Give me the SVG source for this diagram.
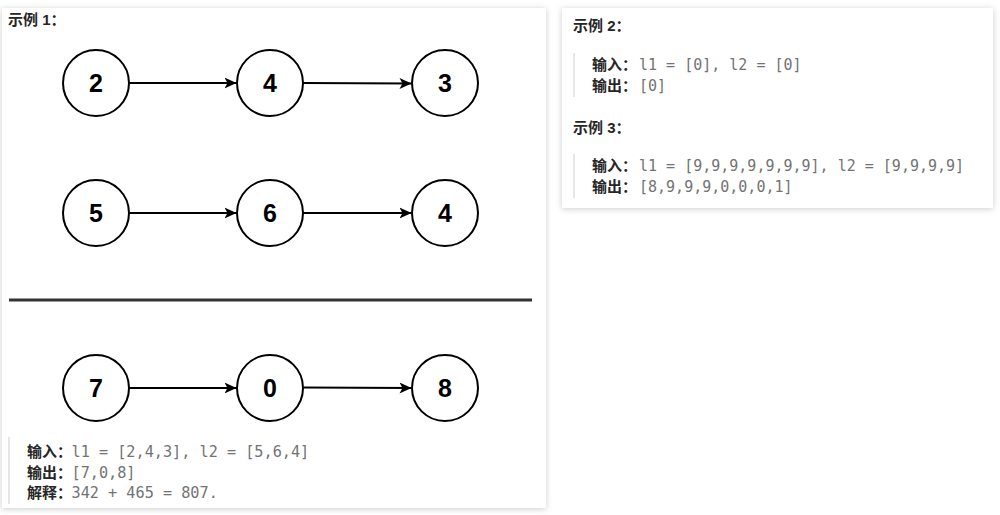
<svg xmlns="http://www.w3.org/2000/svg" width="1000" height="515" viewBox="0 0 1000 515">
<defs>
<filter id="shadow" x="-5%" y="-5%" width="110%" height="110%">
<feDropShadow dx="0" dy="1" stdDeviation="3" flood-color="#000" flood-opacity="0.2"/>
</filter>
<marker id="arrow" viewBox="0 0 12 12" refX="12" refY="6" markerWidth="12" markerHeight="12" markerUnits="userSpaceOnUse" orient="auto">
<path d="M0,0.5 L12,6 L0,11.5 L3,6 Z" fill="#000"/>
</marker>
</defs>
<style>
.card{fill:#fff;filter:url(#shadow)}
.node circle{fill:#fff;stroke:#000;stroke-width:2}
.node text{font-family:"Liberation Sans",Arial,sans-serif;font-weight:bold;font-size:25px;fill:#000;text-anchor:middle}
.edge{stroke:#000;stroke-width:2;fill:none;marker-end:url(#arrow)}
.title{font-family:"Liberation Sans","Noto Sans CJK SC",sans-serif;font-weight:bold;font-size:15px;fill:#262626}
.lbl{font-family:"Noto Sans CJK SC",sans-serif;font-weight:bold;font-size:15px;fill:#262626}
.mono{font-family:"DejaVu Sans Mono",monospace;font-size:15px;fill:#737373}
.monoL{font-family:"DejaVu Sans Mono",monospace;font-size:15.2px;fill:#737373}
.quote{stroke:#e6e6e6;stroke-width:2}
</style>
<rect width="1000" height="515" fill="#fff"/>
<rect class="card" x="2" y="8" width="544" height="500"/>
<rect class="card" x="562" y="8" width="431" height="200"/>

<text class="title" x="8" y="25">示例 1：</text>

<g id="connectors">
<line class="edge" x1="129.5" y1="83" x2="236.5" y2="83"/>
<line class="edge" x1="303.5" y1="83" x2="411.5" y2="83.5"/>
<line class="edge" x1="129.5" y1="213" x2="236.5" y2="213"/>
<line class="edge" x1="303.5" y1="213" x2="411.5" y2="213"/>
<line class="edge" x1="129.5" y1="388" x2="236.5" y2="388"/>
<line class="edge" x1="303.5" y1="387.5" x2="411.5" y2="388"/>
</g>

<g id="n2" class="node"><circle cx="96" cy="83" r="33"/><text x="96" y="92">2</text></g>
<g id="n4" class="node"><circle cx="270" cy="83" r="33"/><text x="270" y="92">4</text></g>
<g id="n3" class="node"><circle cx="445" cy="83" r="33"/><text x="445" y="92">3</text></g>
<g id="n5" class="node"><circle cx="96" cy="213" r="33"/><text x="96" y="222">5</text></g>
<g id="n6" class="node"><circle cx="270" cy="213" r="33"/><text x="270" y="222">6</text></g>
<g id="n4b" class="node"><circle cx="445" cy="213" r="33"/><text x="445" y="222">4</text></g>
<g id="n7" class="node"><circle cx="96" cy="388" r="33"/><text x="96" y="397">7</text></g>
<g id="n0" class="node"><circle cx="270" cy="388" r="33"/><text x="270" y="397">0</text></g>
<g id="n8" class="node"><circle cx="445" cy="388" r="33"/><text x="445" y="397">8</text></g>

<line x1="9" y1="300" x2="532" y2="300" stroke="#333" stroke-width="3"/>

<line class="quote" x1="9" y1="437" x2="9" y2="504"/>
<text x="27" y="457"><tspan class="lbl">输入：</tspan><tspan class="monoL" x="71.5">l1 = [2,4,3], l2 = [5,6,4]</tspan></text>
<text x="27" y="477.5"><tspan class="lbl">输出：</tspan><tspan class="monoL" x="71.5">[7,0,8]</tspan></text>
<text x="27" y="498"><tspan class="lbl">解释：</tspan><tspan class="monoL" x="71.5">342 + 465 = 807.</tspan></text>

<text class="title" x="573" y="31">示例 2：</text>
<line class="quote" x1="574" y1="53" x2="574" y2="97"/>
<text x="592" y="70"><tspan class="lbl">输入：</tspan><tspan class="mono" x="639">l1 = [0], l2 = [0]</tspan></text>
<text x="592" y="91"><tspan class="lbl">输出：</tspan><tspan class="mono" x="639">[0]</tspan></text>

<text class="title" x="573" y="133">示例 3：</text>
<line class="quote" x1="574" y1="154" x2="574" y2="198"/>
<text x="592" y="171"><tspan class="lbl">输入：</tspan><tspan class="mono" x="639">l1 = [9,9,9,9,9,9,9], l2 = [9,9,9,9]</tspan></text>
<text x="592" y="192"><tspan class="lbl">输出：</tspan><tspan class="mono" x="639">[8,9,9,9,0,0,0,1]</tspan></text>
</svg>
